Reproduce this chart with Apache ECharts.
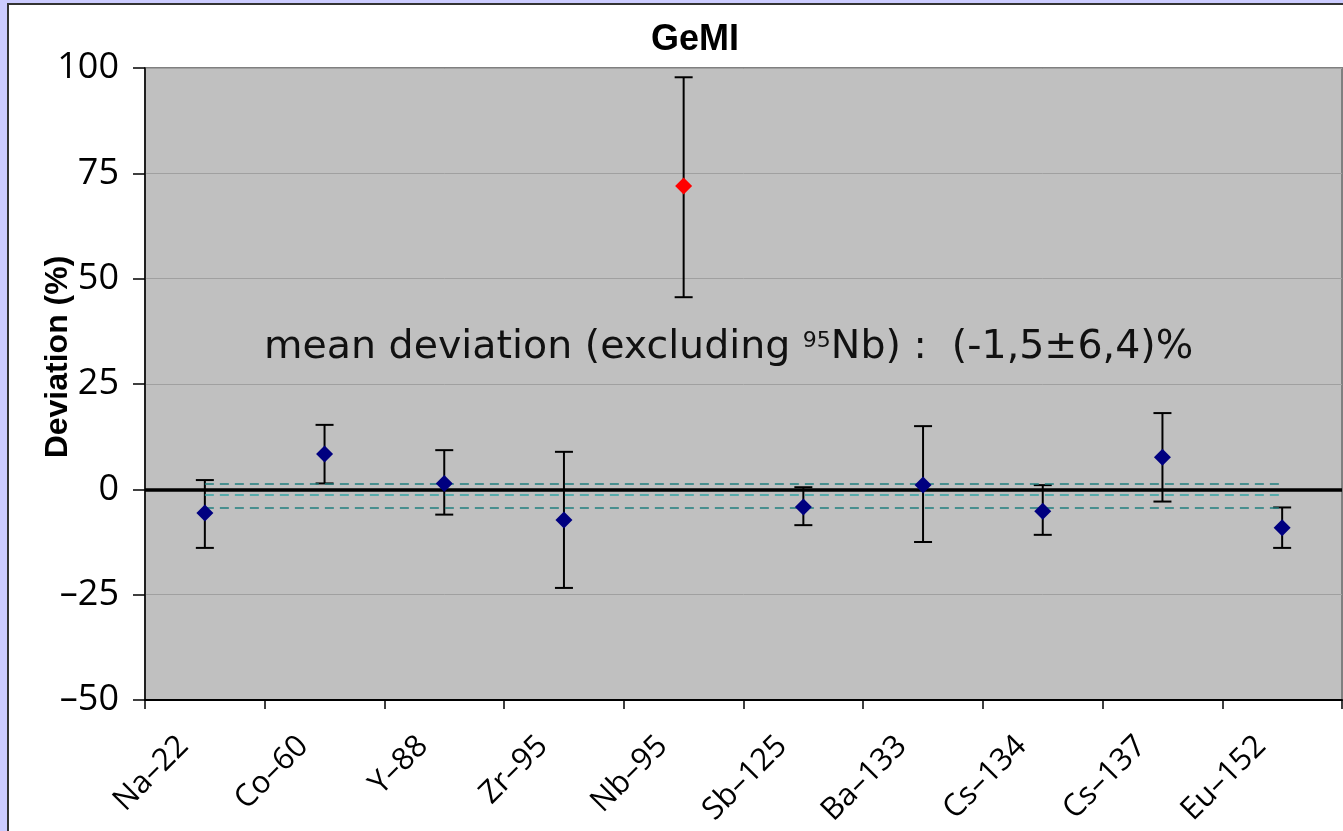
<!DOCTYPE html>
<html>
<head>
<meta charset="utf-8">
<script src="https://cdn.jsdelivr.net/npm/echarts@6/dist/echarts.min.js"></script>
<style>
  html, body { margin: 0; padding: 0; background: #ccccff; width: 1343px; height: 831px; overflow: hidden; }
  #panel { position: absolute; left: 7px; top: 3px; width: 1400px; height: 900px; background: #ffffff; border-left: 2px solid #333; border-top: 2px solid #333; }
  #chart { position: absolute; left: 0; top: 0; width: 1343px; height: 831px; }
</style>
</head>
<body>
<div id="panel"></div>
<div id="chart"></div>
<script>
// ---- data ----
const categories = ['Na–22', 'Co–60', 'Y–88', 'Zr–95', 'Nb–95', 'Sb–125', 'Ba–133', 'Cs–134', 'Cs–137', 'Eu–152'];
const deviation  = [-5.6, 8.4, 1.4, -7.3, 72.0, -4.2, 1.0, -5.2, 7.6, -9.1];
const errUpper   = [2.2, 15.3, 9.3, 8.9, 97.8, 0.5, 15.0, 1.0, 18.1, -4.3];
const errLower   = [-13.9, 1.4, -6.0, -23.4, 45.6, -8.5, -12.5, -10.8, -2.9, -13.9];
const outlierIndex = 4; // Nb-95 shown in red
const refLines = [1.4, -1.2, -4.3];       // dashed reference lines
const yTicks = { min: -50, max: 100, interval: 25 };
const titleText = 'GeMI';
const yName = 'Deviation (%)';

const chart = echarts.init(document.getElementById('chart'), null, { renderer: 'canvas' });

const scatterData = deviation.map((v, i) => ({
  value: [i, v],
  itemStyle: { color: i === outlierIndex ? '#ff0000' : '#000080', opacity: 1 }
}));
const errData = deviation.map((v, i) => [i, errUpper[i], errLower[i]]);

const option = {
  animation: false,
  backgroundColor: 'transparent',
  title: {
    text: titleText,
    left: 690, top: 17,
    textAlign: 'center',
    textStyle: { fontFamily: 'Liberation Sans', fontWeight: 'bold', fontSize: 36, color: '#000' }
  },
  grid: {
    left: 145, right: 1, top: 68, bottom: 131,
    show: true, backgroundColor: '#c0c0c0', borderColor: '#808080', borderWidth: 2
  },
  xAxis: {
    type: 'category',
    data: categories,
    boundaryGap: true,
    axisLine: { show: true, onZero: false, lineStyle: { color: '#000', width: 2 } },
    axisTick: { show: true, length: 9, lineStyle: { color: '#000', width: 1.5 }, alignWithLabel: false },
    axisLabel: {
      rotate: 45, margin: 20, interval: 0,
      fontFamily: 'Open Sans', fontSize: 31, color: '#000',
      padding: [0, 30, 0, 0]
    },
    splitLine: { show: false }
  },
  yAxis: {
    type: 'value',
    min: yTicks.min, max: yTicks.max, interval: yTicks.interval,
    axisLine: { show: true, lineStyle: { color: '#000', width: 1.5 } },
    axisTick: { show: true, length: 12, lineStyle: { color: '#000', width: 1.5 } },
    axisLabel: {
      margin: 26,
      fontFamily: 'Open Sans', fontSize: 36, color: '#000',
      formatter: v => String(v).replace('-', '–')
    },
    splitLine: { show: true, lineStyle: { color: '#a0a0a0', width: 1 } }
  },
  graphic: [{
    type: 'text',
    x: 58, y: 357,
    rotation: Math.PI / 2,
    z: 100,
    style: {
      text: yName,
      align: 'center', verticalAlign: 'middle',
      font: 'bold 32px "Liberation Sans"',
      fill: '#000'
    }
  }, {
    type: 'text',
    left: 264, top: 325,
    z: 100,
    style: {
      text: '{m|mean deviation (excluding }{s|95}{m|Nb) :  (-1,5±6,4)%}',
      rich: {
        m: { fontFamily: 'DejaVu Sans', fontSize: 39.5, lineHeight: 46, fill: '#111' },
        s: { fontFamily: 'DejaVu Sans', fontSize: 22, lineHeight: 22, verticalAlign: 'top', padding: [5, 0, 0, 0], fill: '#111' }
      }
    }
  }],
  series: [
    {
      type: 'line',
      data: [],
      silent: true,
      markLine: {
        silent: true, symbol: 'none', animation: false,
        label: { show: false },
        data: [
          [{ coord: [0, refLines[0]], lineStyle: { color: '#217f7f', type: [9, 6], width: 1.5 } }, { coord: [9, refLines[0]] }],
          [{ coord: [0, refLines[1]], lineStyle: { color: '#35a5a5', type: [9, 6], width: 1.5 } }, { coord: [9, refLines[1]] }],
          [{ coord: [0, refLines[2]], lineStyle: { color: '#217f7f', type: [9, 6], width: 1.5 } }, { coord: [9, refLines[2]] }]
        ]
      },
      z: 2
    },
    {
      type: 'line',
      data: [],
      silent: true,
      markLine: {
        silent: true, symbol: 'none', animation: false,
        label: { show: false },
        lineStyle: { color: '#000', type: 'solid', width: 3.5 },
        data: [{ yAxis: 0 }]
      },
      z: 3
    },
    {
      type: 'custom',
      data: errData,
      encode: { x: 0, y: [1, 2] },
      z: 4,
      renderItem: function (params, api) {
        const i = api.value(0);
        const top = api.coord([i, api.value(1)]);
        const bot = api.coord([i, api.value(2)]);
        const half = 9;
        const st = { stroke: '#000', lineWidth: 2 };
        return {
          type: 'group',
          children: [
            { type: 'line', shape: { x1: top[0], y1: top[1], x2: bot[0], y2: bot[1] }, style: st },
            { type: 'line', shape: { x1: top[0] - half, y1: top[1], x2: top[0] + half, y2: top[1] }, style: st },
            { type: 'line', shape: { x1: bot[0] - half, y1: bot[1], x2: bot[0] + half, y2: bot[1] }, style: st }
          ]
        };
      }
    },
    {
      type: 'scatter',
      data: scatterData,
      symbol: 'diamond',
      symbolSize: 17,
      itemStyle: { opacity: 1 },
      z: 5
    }
  ]
};
chart.setOption(option);
</script>
</body>
</html>
